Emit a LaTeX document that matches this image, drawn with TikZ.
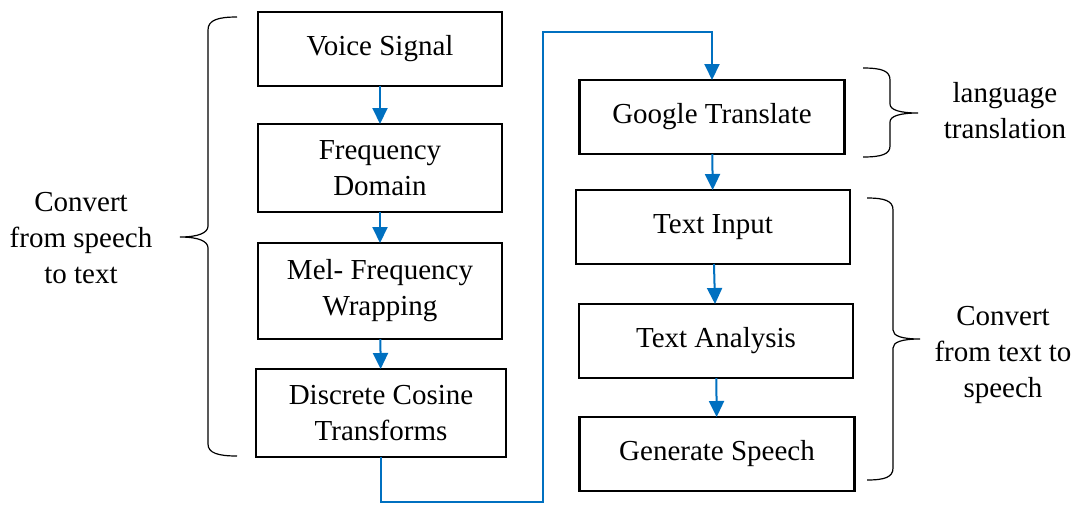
\documentclass[tikz,border=0pt]{standalone}
\usepackage{fontspec}
\setmainfont{Liberation Serif}
\usetikzlibrary{positioning,arrows.meta}
\definecolor{flowblue}{RGB}{0,112,192}

\begin{document}
\begin{tikzpicture}[x=0.5pt,y=-0.5pt,
 every node/.style={outer sep=0pt,font=\fontsize{14.5}{18}\selectfont},
 box/.style={draw,line width=1.2pt,minimum width=122pt,minimum height=37pt,
 inner sep=2pt,align=center},
 flow/.style={draw=flowblue,line width=1pt,-{Triangle[length=8pt,width=7.5pt]}},
 curly/.style={line width=0.6pt},
 note/.style={align=center}]
  \useasboundingbox (0,0) rectangle (1080,504);

  % speech to text
  \node[box] (voice) at (380,49) {Voice Signal};
  \node[box,minimum height=44pt,below=19pt of voice] (freq) {Frequency\\Domain};
  \node[box,minimum height=48pt,below=15.5pt of freq] (mel) {Mel- Frequency\\Wrapping};
  \node[box,minimum width=125pt,minimum height=44pt,below=15pt of mel,
  xshift=0.5pt] (dct) {Discrete Cosine\\Transforms};

  % translation and text to speech
  \node[box,minimum width=132.5pt] (google) at (712,117) {Google Translate};
  \node[box,minimum width=137pt,below=18pt of google,xshift=0.5pt] (tinput) {Text Input};
  \node[box,minimum width=137pt,below=20pt of tinput,xshift=1.5pt] (tanal) {Text Analysis};
  \node[box,minimum width=137.5pt,below=19.5pt of tanal,xshift=0.5pt] (gspeech)
  {Generate Speech};

  \draw[flow] (voice) -- (freq);
  \draw[flow] (freq) -- (mel);
  \draw[flow] (mel) -- (dct);
  \coordinate (turn1) at (543,502);
  \coordinate (turn2) at (543,32);
  \draw[flow] (dct.south) |- (turn1) -- (turn2) -| (google.north);
  \draw[flow] (google) -- (tinput);
  \draw[flow] (tinput) -- (tanal);
  \draw[flow] (tanal) -- (gspeech);

  % braces
  \draw[curly] (237,17) .. controls (218,17) and (208,20) .. (208,30) -- (208,226)
   .. controls (208,233) and (198,237) .. (180,237)
   .. controls (198,237) and (208,241) .. (208,248) -- (208,444)
   .. controls (208,453) and (218,456) .. (237,456);
  \draw[curly] (863,68) .. controls (882,68) and (890,71) .. (890,80) -- (890,104)
   .. controls (890,110) and (900,113) .. (918,113)
   .. controls (900,113) and (890,116) .. (890,122) -- (890,146)
   .. controls (890,154) and (882,157) .. (863,157);
  \draw[curly] (867,198) .. controls (885,198) and (893,201) .. (893,210) -- (893,330)
   .. controls (893,336) and (902,339) .. (920,339)
   .. controls (902,339) and (893,342) .. (893,348) -- (893,468)
   .. controls (893,477) and (885,480) .. (867,480);

  \node[note] (lstt) at (81,238) {Convert\\from speech\\to text};
  \node[note] (ltrans) at (1005,111) {language\\translation};
  \node[note] (ltts) at (1003,355) {Convert\\from text to\\speech};
\end{tikzpicture}
\end{document}
